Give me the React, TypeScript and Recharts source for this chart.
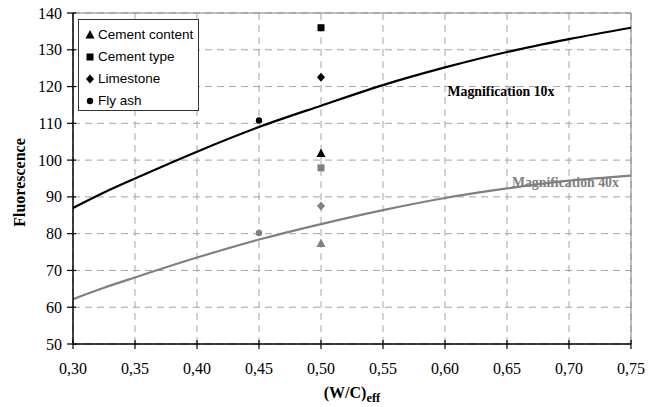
import React from "react";
import {
  ComposedChart,
  Line,
  Scatter,
  XAxis,
  YAxis,
  CartesianGrid,
  ReferenceLine,
  ReferenceDot,
} from "recharts";

// fitted curves
const mag10 = [
  { x: 0.3, y: 87 },
  { x: 0.325, y: 91.2 },
  { x: 0.35, y: 95 },
  { x: 0.4, y: 102.3 },
  { x: 0.45, y: 109 },
  { x: 0.5, y: 114.8 },
  { x: 0.55, y: 120.4 },
  { x: 0.6, y: 125.2 },
  { x: 0.65, y: 129.4 },
  { x: 0.7, y: 132.9 },
  { x: 0.75, y: 136 },
];
const mag40 = [
  { x: 0.3, y: 62.2 },
  { x: 0.325, y: 65.3 },
  { x: 0.35, y: 68.1 },
  { x: 0.4, y: 73.5 },
  { x: 0.45, y: 78.4 },
  { x: 0.5, y: 82.6 },
  { x: 0.55, y: 86.4 },
  { x: 0.6, y: 89.7 },
  { x: 0.65, y: 92.3 },
  { x: 0.7, y: 94.4 },
  { x: 0.75, y: 95.8 },
];

// measured points, black = 10x, grey = 40x
const cementContent10 = [{ x: 0.5, y: 101.8 }];
const cementType10 = [{ x: 0.5, y: 136 }];
const limestone10 = [{ x: 0.5, y: 122.5 }];
const flyAsh10 = [{ x: 0.45, y: 110.8 }];
const cementContent40 = [{ x: 0.5, y: 77.3 }];
const cementType40 = [{ x: 0.5, y: 97.9 }];
const limestone40 = [{ x: 0.5, y: 87.5 }];
const flyAsh40 = [{ x: 0.45, y: 80.2 }];

const xTicks = [0.3, 0.35, 0.4, 0.45, 0.5, 0.55, 0.6, 0.65, 0.7, 0.75];
const yTicks = [50, 60, 70, 80, 90, 100, 110, 120, 130, 140];
const legendItems = [
  { name: "Cement content", shape: "triangle" },
  { name: "Cement type", shape: "square" },
  { name: "Limestone", shape: "diamond" },
  { name: "Fly ash", shape: "circle" },
];

const BLACK = "#000";
const GREY = "#808080";
const SERIF = "Liberation Serif";
const SANS = "Liberation Sans";

function Marker({ shape, cx, cy, fill }: { shape: string; cx: number; cy: number; fill: string }) {
  if (shape === "triangle")
    return <path d={`M${cx},${cy - 5}L${cx + 4.5},${cy + 3.5}L${cx - 4.5},${cy + 3.5}Z`} fill={fill} />;
  if (shape === "square") return <rect x={cx - 3.5} y={cy - 3.5} width={7} height={7} fill={fill} />;
  if (shape === "diamond")
    return <path d={`M${cx},${cy - 4.5}L${cx + 4},${cy}L${cx},${cy + 4.5}L${cx - 4},${cy}Z`} fill={fill} />;
  return <circle cx={cx} cy={cy} r={3.2} fill={fill} />;
}

const shapeFor = (shape: string, fill: string) => (p: any) => (
  <Marker shape={shape} cx={p.cx} cy={p.cy} fill={fill} />
);

const renderYTick = (props: any) => {
  const { x, y, payload } = props;
  return (
    <g key={`y${payload.value}`}>
      <line x1={x - 6} x2={x + 3} y1={y} y2={y} stroke={BLACK} strokeWidth={1.2} />
      <text x={x - 11} y={y + 5.5} textAnchor="end" style={{ fontFamily: SERIF, fontSize: 16 }} fill="#000">
        {payload.value}
      </text>
    </g>
  );
};

const renderXTick = (props: any) => {
  const { x, y, payload } = props;
  return (
    <g key={`x${payload.value}`}>
      <line x1={x} x2={x} y1={y - 4} y2={y + 5} stroke={BLACK} strokeWidth={1.2} />
      <text x={x} y={y + 30} textAnchor="middle" style={{ fontFamily: SERIF, fontSize: 16 }} fill="#000">
        {payload.value.toFixed(2).replace(".", ",")}
      </text>
    </g>
  );
};

const YLabel = (props: any) => {
  const { viewBox } = props;
  const cx = 19;
  const cy = viewBox.y + viewBox.height / 2 + 4;
  return (
    <text
      x={cx}
      y={cy}
      transform={`rotate(-90 ${cx} ${cy})`}
      textAnchor="middle"
      dominantBaseline="central"
      style={{ fontFamily: SERIF, fontWeight: "bold", fontSize: 16 }}
      fill="#000"
    >
      Fluorescence
    </text>
  );
};

const XLabel = (props: any) => {
  const { viewBox } = props;
  return (
    <text
      x={viewBox.x + viewBox.width / 2}
      y={viewBox.y + 54}
      textAnchor="middle"
      style={{ fontFamily: SERIF, fontWeight: "bold", fontSize: 16 }}
      fill="#000"
    >
      (W/C)
      <tspan fontSize={12.5} dy={4}>
        eff
      </tspan>
    </text>
  );
};

const TextMark = (text: string, color: string) => (p: any) => (
  <text
    x={p.cx}
    y={p.cy}
    dominantBaseline="central"
    style={{ fontFamily: SERIF, fontWeight: "bold", fontSize: 13.8 }}
    fill={color}
  >
    {text}
  </text>
);

export default function App() {
  return (
    <div style={{ position: "absolute", left: 0, top: 0, width: 660, height: 407, background: "#fff" }}>
      <ComposedChart width={660} height={407} margin={{ top: 13, right: 29, bottom: 0, left: 0 }}>
        <CartesianGrid stroke="#a6a6a6" strokeDasharray="7 5" />
        <XAxis
          dataKey="x"
          type="number"
          domain={[0.3, 0.75]}
          ticks={xTicks}
          interval={0}
          height={63}
          tickSize={0}
          tickMargin={0}
          tickLine={false}
          tick={renderXTick}
          axisLine={{ stroke: BLACK, strokeWidth: 1.5 }}
          allowDataOverflow
          label={<XLabel />}
        />
        <YAxis
          dataKey="y"
          type="number"
          domain={[50, 140]}
          ticks={yTicks}
          interval={0}
          width={73}
          tickSize={0}
          tickMargin={0}
          tickLine={false}
          tick={renderYTick}
          axisLine={{ stroke: BLACK, strokeWidth: 1.5 }}
          allowDataOverflow
          label={<YLabel />}
        />
        <ReferenceLine y={140} stroke={GREY} strokeWidth={1} />
        <ReferenceLine x={0.75} stroke={GREY} strokeWidth={1} />
        <Line data={mag10} dataKey="y" type="monotone" stroke={BLACK} strokeWidth={2.2} dot={false} isAnimationActive={false} />
        <Line data={mag40} dataKey="y" type="monotone" stroke={GREY} strokeWidth={2.2} dot={false} isAnimationActive={false} />
        <Scatter data={cementContent10} dataKey="y" shape={shapeFor("triangle", BLACK)} isAnimationActive={false} />
        <Scatter data={cementType10} dataKey="y" shape={shapeFor("square", BLACK)} isAnimationActive={false} />
        <Scatter data={limestone10} dataKey="y" shape={shapeFor("diamond", BLACK)} isAnimationActive={false} />
        <Scatter data={flyAsh10} dataKey="y" shape={shapeFor("circle", BLACK)} isAnimationActive={false} />
        <Scatter data={cementContent40} dataKey="y" shape={shapeFor("triangle", GREY)} isAnimationActive={false} />
        <Scatter data={cementType40} dataKey="y" shape={shapeFor("square", GREY)} isAnimationActive={false} />
        <Scatter data={limestone40} dataKey="y" shape={shapeFor("diamond", GREY)} isAnimationActive={false} />
        <Scatter data={flyAsh40} dataKey="y" shape={shapeFor("circle", GREY)} isAnimationActive={false} />
        <ReferenceDot x={0.602} y={118.6} r={0} shape={TextMark("Magnification 10x", BLACK)} />
        <ReferenceDot x={0.654} y={93.8} r={0} shape={TextMark("Magnification 40x", GREY)} />
      </ComposedChart>
      <div
        style={{
          position: "absolute",
          left: 78,
          top: 19,
          border: "1px solid #333",
          background: "#fff",
          width: 121,
          height: 92,
          boxSizing: "border-box",
          padding: "3px 0 0 5px",
          fontFamily: SANS,
          fontSize: 13.5,
        }}
      >
        {legendItems.map((it) => (
          <div key={it.name} style={{ display: "flex", alignItems: "center", height: 22 }}>
            <svg width={12} height={12} style={{ marginRight: 2 }}>
              <Marker shape={it.shape} cx={6} cy={7} fill={BLACK} />
            </svg>
            <span>{it.name}</span>
          </div>
        ))}
      </div>
    </div>
  );
}
